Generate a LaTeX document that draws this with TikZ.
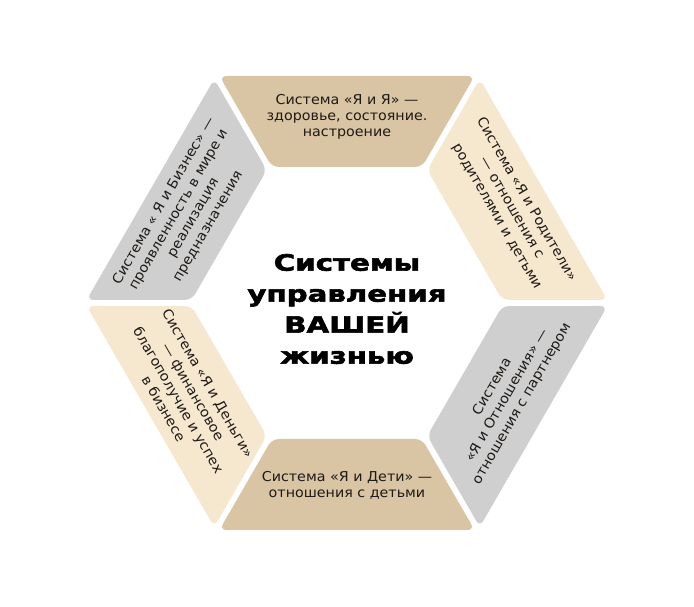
\documentclass[tikz,border=0pt]{standalone}
\usepackage{fontspec}
\setmainfont[FakeStretch=1.05]{DejaVu Sans}
\newfontfamily\heavyfont[FakeStretch=1.3,FakeBold=2.5]{DejaVu Sans Bold}
\definecolor{tanc}{HTML}{D9C4A3}
\definecolor{beigec}{HTML}{F6E7CF}
\definecolor{grayc}{HTML}{CFCFCF}
\definecolor{inkc}{HTML}{1E1A16}
\begin{document}
\begin{tikzpicture}[x=1pt,y=1pt,
  seg/.style={rounded corners=7pt},
  txt/.style={align=center,text=inkc,font=\fontsize{13.6}{16}\selectfont,inner sep=0pt},
  sidetxt/.style={txt,font=\fontsize{13.6}{17}\selectfont},
  bigtxt/.style={align=center,text=black,font=\heavyfont\fontsize{22.5}{31}\selectfont,inner sep=0pt}]
\useasboundingbox (-347,-304) rectangle (347,303);
\fill[white] (-347,-304) rectangle (347,303);
\foreach \th/\col in {0/tanc,60/grayc,120/beigec,180/tanc,240/grayc,300/beigec}
  \fill[\col,seg,rotate=\th] (-127.6,227) -- (127.6,227) -- (75,136) -- (-75,136) -- cycle;
\node[txt] (t1) at (90:186) {Система «Я и Я» —\\здоровье, состояние.\\настроение};
\node[sidetxt,rotate=60] (t2) at (151:184) {Система « Я и Бизнес» —\\проявленность в мире и\\реализация\\предназначения};
\node[sidetxt,rotate=-60] (t3) at (210:186) {Система «Я и Деньги»\\— финансовое\\благополучие и успех\\в бизнесе};
\node[txt] (t4) at (270:182) {Система «Я и Дети» —\\отношения с детьми};
\node[sidetxt,rotate=60] (t5) at (330:185) {Система\\«Я и Отношения» —\\отношения с партнером};
\node[sidetxt,rotate=-60] (t6) at (30:190) {Система «Я и Родители»\\— отношения с\\родителями и детьми};
\node[bigtxt] (c) at (0,-6) {Системы\\управления\\ВАШЕЙ\\жизнью};
\end{tikzpicture}
\end{document}
